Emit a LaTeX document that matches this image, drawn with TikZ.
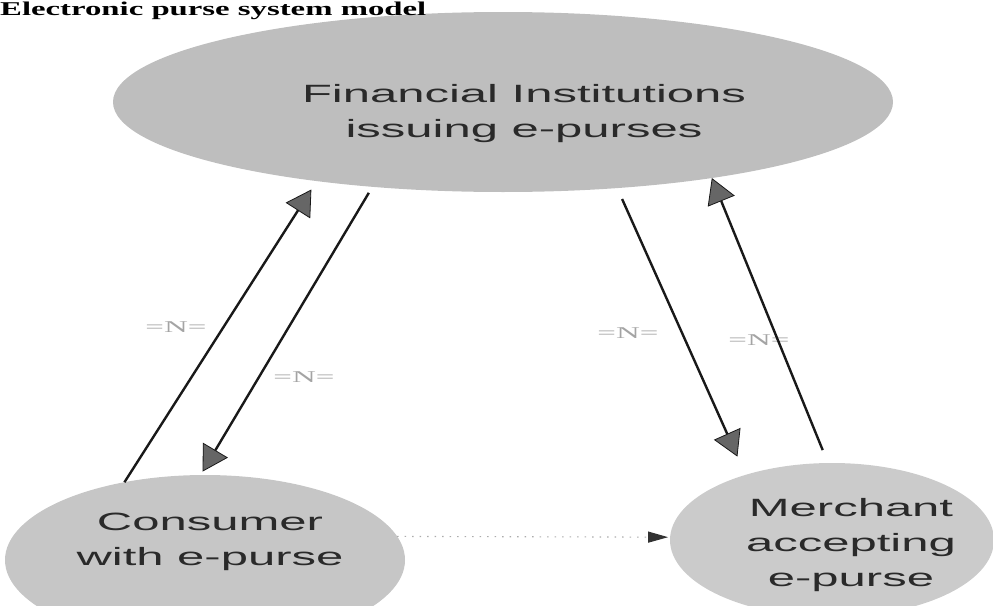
\documentclass[tikz,border=0pt]{standalone}
\usepackage{fontspec}
\setmainfont{Liberation Serif}
\newfontfamily\boxfont[FakeStretch=1.96]{Liberation Sans}
\newfontfamily\nairafont[FakeStretch=2]{Liberation Serif}
\newfontfamily\titlefont[FakeStretch=1.68]{Liberation Serif}
\usetikzlibrary{shapes.geometric,arrows.meta}
\definecolor{bubbleA}{HTML}{BEBEBE}
\definecolor{bubbleB}{HTML}{C6C6C6}
\definecolor{bubbleC}{HTML}{CBCBCB}
\definecolor{inktext}{HTML}{2A2A2A}
\definecolor{nairagray}{HTML}{A4A4A4}
\begin{document}
\begin{tikzpicture}[x=1pt,y=-1pt,
  bubble/.style={ellipse, fill=#1, draw=none, inner sep=0pt, outer sep=0pt},
  lbl/.style={font=\boxfont\fontsize{25}{35}\selectfont, text=inktext, align=center, inner sep=0pt},
  naira/.style={font=\nairafont\fontsize{16.5}{18}\selectfont, text=nairagray, inner sep=0pt},
  flow/.style={line width=2.4pt, draw=black!90,
    -{Triangle[length=25pt,width=29pt,line width=0.8pt,fill=black!60]}},
  dotflow/.style={line width=1.1pt, draw=gray!65, dash pattern=on 1.5pt off 6pt,
    -{Triangle[length=20pt,width=11pt,color=black!80]}},
  ]
\useasboundingbox (0,0) rectangle (993,605);

% ellipses
\node[bubble=bubbleA, minimum width=780pt, minimum height=180pt] (fi) at (503,102) {};
\node[bubble=bubbleB, minimum width=400pt, minimum height=170pt] (cons) at (205,560) {};
\node[bubble=bubbleC, minimum width=324pt, minimum height=154pt] (merch) at (832,540) {};

% texts
\node[lbl] (fitext) at (524,114) {Financial Institutions\\issuing e-purses};
\node[lbl] (constext) at (210,542) {Consumer\\with e-purse};
\node[lbl] (merchtext) at (851,545) {Merchant\\accepting\\e-purse};

% title
\node[anchor=base west, inner sep=0pt, font=\titlefont\bfseries\fontsize{19.5}{20}\selectfont] (title) at (0,15) {Electronic purse system model};

% naira labels
\node[naira] (n1) at (176,327) {=N=};
\node[naira] (n2) at (304,377) {=N=};
\node[naira] (n3) at (628,333) {=N=};
\node[naira] (n4) at (759,340) {=N=};

% connectors
\draw[flow, shorten >=10pt] (cons.136) -- (fi.203);
\draw[flow, shorten <=7pt, shorten >=4pt] (fi.213) -- (cons.93);
\draw[flow, shorten <=12pt, shorten >=20pt] (fi.323) -- (merch.143);
\draw[flow, shorten <=14pt] (merch.93) -- (fi.340);
\draw[dotflow, shorten >=2pt] (cons.7) -- (merch.179);
\end{tikzpicture}
\end{document}
